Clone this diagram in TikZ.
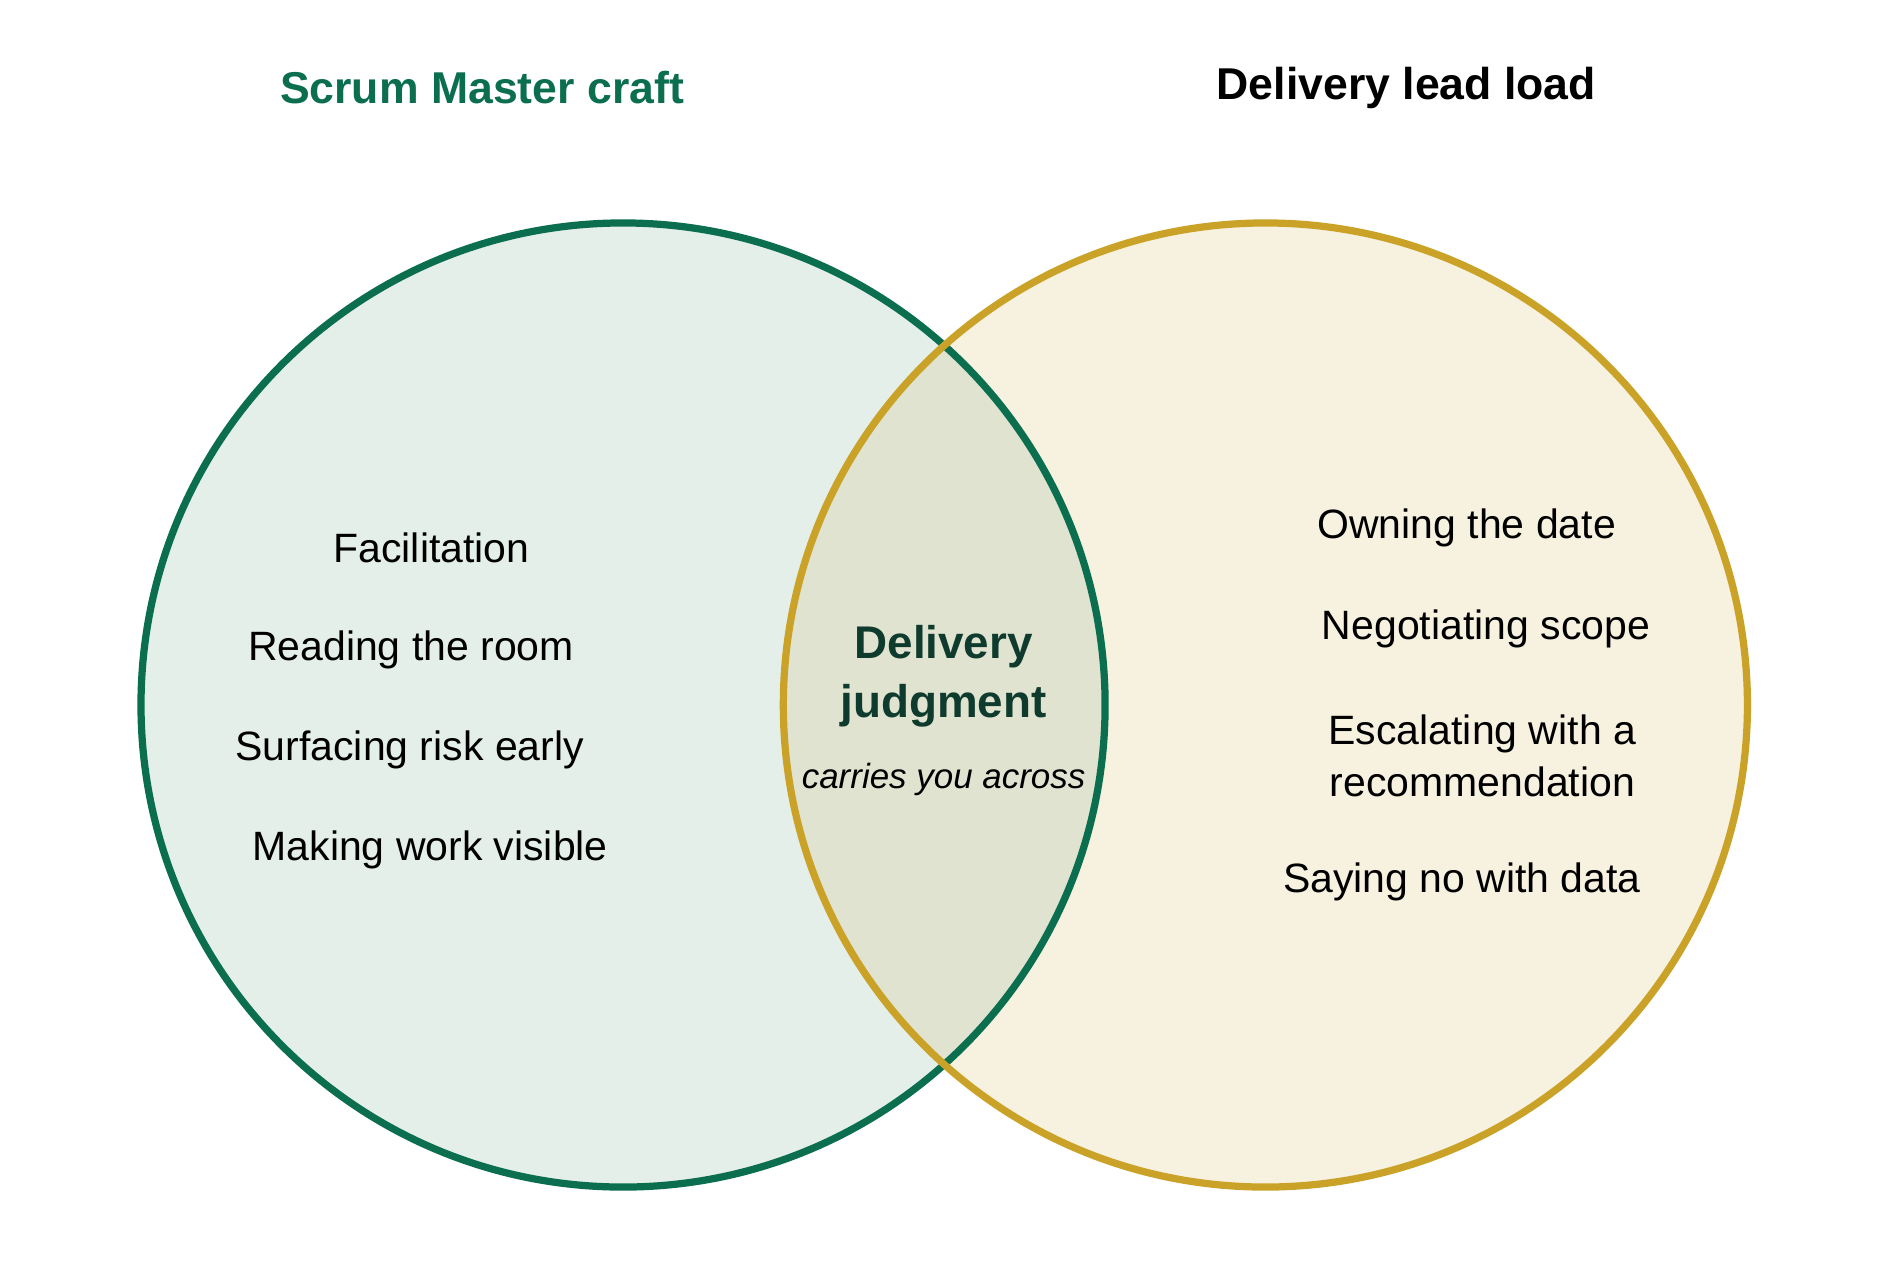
\documentclass[tikz,border=0pt]{standalone}
\usepackage{fontspec}
\setmainfont{Liberation Sans}
\definecolor{sg}{HTML}{0B6E4F}
\definecolor{sgf}{HTML}{E5EFEA}
\definecolor{gd}{HTML}{C9A227}
\definecolor{gdf}{HTML}{F7F1DF}
\definecolor{ov}{HTML}{E0E3D0}
\definecolor{dk}{HTML}{0F3B2E}
\begin{document}
\begin{tikzpicture}[x=0.5pt,y=-0.5pt,
  item/.style={font=\fontsize{17}{20}\selectfont,text=black,align=center},
  ttl/.style={font=\bfseries\fontsize{18.5}{22}\selectfont}]
\useasboundingbox (0,0) rectangle (1560,1062);
\fill[white] (0,0) rectangle (1560,1062);
\fill[sgf] (517,585) circle[radius=400];
\fill[gdf] (1050,585) circle[radius=400];
\begin{scope}
\clip (517,585) circle[radius=400];
\fill[ov] (1050,585) circle[radius=400];
\end{scope}
\draw[sg,line width=3pt] (517,585) circle[radius=400];
\draw[gd,line width=3pt] (1050,585) circle[radius=400];
\node[ttl,text=sg] (t1) at (400,73) {Scrum Master craft};
\node[ttl,text=black] (t2) at (1167,73) {Delivery lead load};
\node[item] (a1) at (358,455) {Facilitation};
\node[item] (a2) at (341,539) {Reading the room};
\node[item] (a3) at (340,622) {Surfacing risk early};
\node[item] (a4) at (357,705) {Making work visible};
\node[item] (b1) at (1217,438) {Owning the date};
\node[item] (b2) at (1233,522) {Negotiating scope};
\node[item,font=\fontsize{17}{21.5}\selectfont] (b3) at (1230,627) {Escalating with a\\recommendation};
\node[item] (b4) at (1213,732) {Saying no with data};
\node[ttl,text=dk,align=center,font=\bfseries\fontsize{19}{24.5}\selectfont] (c) at (783,561) {Delivery\\judgment};
\node[font=\itshape\fontsize{14.5}{17}\selectfont] (cs) at (783,647) {carries you across};
\end{tikzpicture}
\end{document}
